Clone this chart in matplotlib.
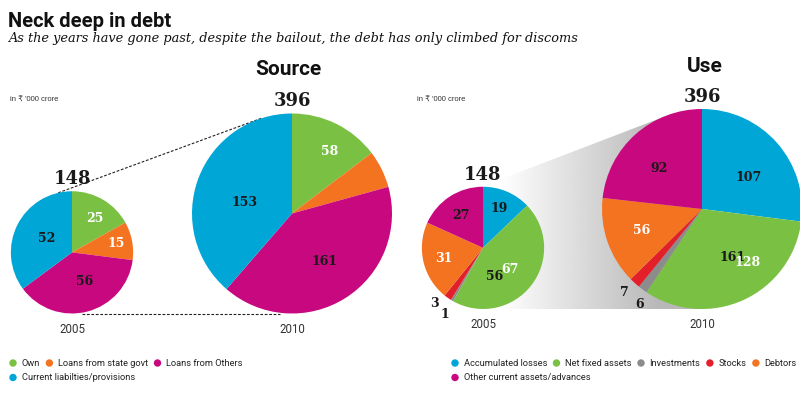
import matplotlib
matplotlib.use('Agg')
import matplotlib.pyplot as plt
import numpy as np
from matplotlib.patches import Circle, Polygon

# the data, in Rs '000 crore
years = ['2005', '2010']

source_labels = ['Own', 'Loans from state govt', 'Loans from Others',
                 'Current liabilties/provisions']
source_2005 = [25, 15, 56, 52]
source_2010 = [58, 24, 161, 153]

use_labels = ['Accumulated losses', 'Net fixed assets', 'Investments', 'Stocks',
              'Debtors', 'Other current assets/advances']
use_2005 = [19, 67, 1, 3, 31, 27]
use_2010 = [107, 128, 6, 7, 56, 92]

# colours
GREEN, ORANGE, MAGENTA, BLUE = '#7ac143', '#f47321', '#c8087e', '#00a6d6'
GREY, RED = '#8c8c8c', '#e3202a'
DARK, WHITE = '#1a1a1a', 'white'
source_colors = [GREEN, ORANGE, MAGENTA, BLUE]
use_colors = [BLUE, GREEN, GREY, RED, ORANGE, MAGENTA]

# no condensed face is installed, Roboto is the narrowest sans we have
COND = 'Roboto'
NUM = 'DejaVu Serif'

W, H = 800, 398
R_MAX = 100.0
TOTAL_MAX = max(sum(source_2010), sum(use_2010))

fig = plt.figure(figsize=(W / 100, H / 100), dpi=100)
ax = fig.add_axes([0, 0, 1, 1])
renderer = fig.canvas.get_renderer()


def Y(y):
    return H - y


def draw_pie(vals, colors, cx, base, year, tcolors, dist, nudge, stray=None):
    r = R_MAX * np.sqrt(sum(vals) / TOTAL_MAX)
    cy = base - r
    wedges, _ = ax.pie(vals, colors=colors, startangle=90, counterclock=False,
                       center=(cx, Y(cy)), radius=r,
                       wedgeprops=dict(linewidth=0, zorder=2))
    for i, w in enumerate(wedges):
        if tcolors[i] is None:
            continue
        mid = (w.theta1 + w.theta2) / 2
        # stray labels sit under the real ones, as in the print
        if stray is not None and stray[0] == i:
            a = np.deg2rad(stray[3])
            ax.text(cx + stray[2] * r * np.cos(a), Y(cy) + stray[2] * r * np.sin(a),
                    str(stray[1]), color=DARK, fontsize=9, family=NUM,
                    weight='bold', ha='center', va='center_baseline', zorder=4)
        a = np.deg2rad(mid + nudge[i])
        ax.text(cx + dist[i] * r * np.cos(a), Y(cy) + dist[i] * r * np.sin(a),
                str(vals[i]), color=tcolors[i], fontsize=9, family=NUM,
                weight='bold', ha='center', va='center_baseline', zorder=5)
    ax.text(cx, Y(cy - r - 7), str(sum(vals)), fontsize=13, family=NUM,
            weight='bold', color=DARK, ha='center', va='baseline', zorder=5)
    ax.text(cx, Y(base + 19.5), year, fontsize=8.3, family=COND, color='#333333',
            ha='center', va='baseline')
    return cx, cy, r


def legend_rows(x0, y0, labels, colors, rows):
    for ri, row in enumerate(rows):
        x = x0
        y = y0 + ri * 14.5
        for i in row:
            ax.add_patch(Circle((x, Y(y)), 3.7, color=colors[i], lw=0))
            t = ax.text(x + 8.5, Y(y), labels[i], fontsize=6.7, family=COND,
                        color='#222222', ha='left', va='center')
            x += 8.5 + t.get_window_extent(renderer).width + 9.5


# headline
ax.text(8, Y(27), 'Neck deep in debt', fontsize=14.5, family=COND, weight='semibold',
        color='#111111', ha='left', va='baseline')
ax.text(9, Y(42), 'As the years have gone past, despite the bailout, the debt has only '
        'climbed for discoms', fontsize=9.3, family=NUM, style='italic',
        color='#111111', ha='left', va='baseline')

# ---- Source panel ----
ax.text(288, Y(75), 'Source', fontsize=15, family=COND, weight='semibold',
        color='#111111', ha='center', va='baseline')
ax.text(10, Y(100), "in \u20b9 '000 crore", fontsize=5.5,
        family=['Liberation Sans', 'DejaVu Sans'], color='#333333', va='center')

s1 = draw_pie(source_2005, source_colors, 72, 313.5, years[0],
              [WHITE, WHITE, DARK, DARK], [0.69, 0.74, 0.5, 0.49], [-2, 2, 10, -5])
s2 = draw_pie(source_2010, source_colors, 292, 313.5, years[1],
              [WHITE, None, DARK, DARK], [0.74, 0, 0.57, 0.49], [-4.6, 0, 3, 5.5])

# dashed connectors between the two source pies
a1, a2 = np.deg2rad(103), np.deg2rad(108)
ax.plot([s1[0] + s1[2] * np.cos(a1), s2[0] + s2[2] * np.cos(a2)],
        [Y(s1[1]) + s1[2] * np.sin(a1), Y(s2[1]) + s2[2] * np.sin(a2)],
        color='#222222', lw=0.8, ls=(0, (2.5, 1.5)), zorder=1)
ax.plot([s1[0] + 10, s2[0] - 12], [Y(313.5), Y(313.5)],
        color='#222222', lw=0.8, ls=(0, (2.5, 1.5)), zorder=1)

legend_rows(13, 363, source_labels, source_colors, [[0, 1, 2], [3]])

# ---- Use panel ----
ax.text(705, Y(72), 'Use', fontsize=15, family=COND, weight='semibold',
        color='#111111', ha='center', va='baseline')
ax.text(417, Y(100), "in \u20b9 '000 crore", fontsize=5.5,
        family=['Liberation Sans', 'DejaVu Sans'], color='#333333', va='center')

u1 = draw_pie(use_2005, use_colors, 483, 309, years[0],
              [DARK, WHITE, DARK, DARK, WHITE, DARK],
              [0.72, 0.54, 1.23, 1.19, 0.66, 0.66], [2, 1, 0, -7, 0, 1],
              stray=(1, source_2005[2], 0.49, -67))
u2 = draw_pie(use_2010, use_colors, 702, 309, years[1],
              [DARK, WHITE, DARK, DARK, WHITE, DARK],
              [0.57, 0.69, 1.13, 1.13, 0.63, 0.6], [-6, 17, 3, -1, -1, 4],
              stray=(1, source_2010[2], 0.56, -56.6))

# grey funnel from the small pie to the big one
a1, a2 = np.deg2rad(80), np.deg2rad(115)
funnel = Polygon([(u1[0] + 1.1 * u1[2] * np.cos(a1), Y(u1[1]) + 1.1 * u1[2] * np.sin(a1)),
                  (u2[0] + u2[2] * np.cos(a2), Y(u2[1]) + u2[2] * np.sin(a2)),
                  (u2[0], Y(u2[1])), (u2[0], Y(309)), (u1[0], Y(309))],
                 closed=True, facecolor='none', edgecolor='none')
ax.add_patch(funnel)
gx = np.linspace(u1[0], u2[0], 300)
shade = np.clip(1 - 0.28 * (gx - 500) / 160, 0.72, 1.0)
img = ax.imshow(np.tile(shade, (2, 1)), cmap='gray', vmin=0, vmax=1,
                extent=[u1[0], u2[0], Y(309), Y(100)], aspect='auto', zorder=0)
img.set_clip_path(funnel)

legend_rows(455, 363, use_labels, use_colors, [[0, 1, 2, 3, 4], [5]])

ax.set_xlim(0, W)
ax.set_ylim(0, H)
ax.set_aspect('auto')
ax.axis('off')

fig.savefig('out.png', dpi=100)
